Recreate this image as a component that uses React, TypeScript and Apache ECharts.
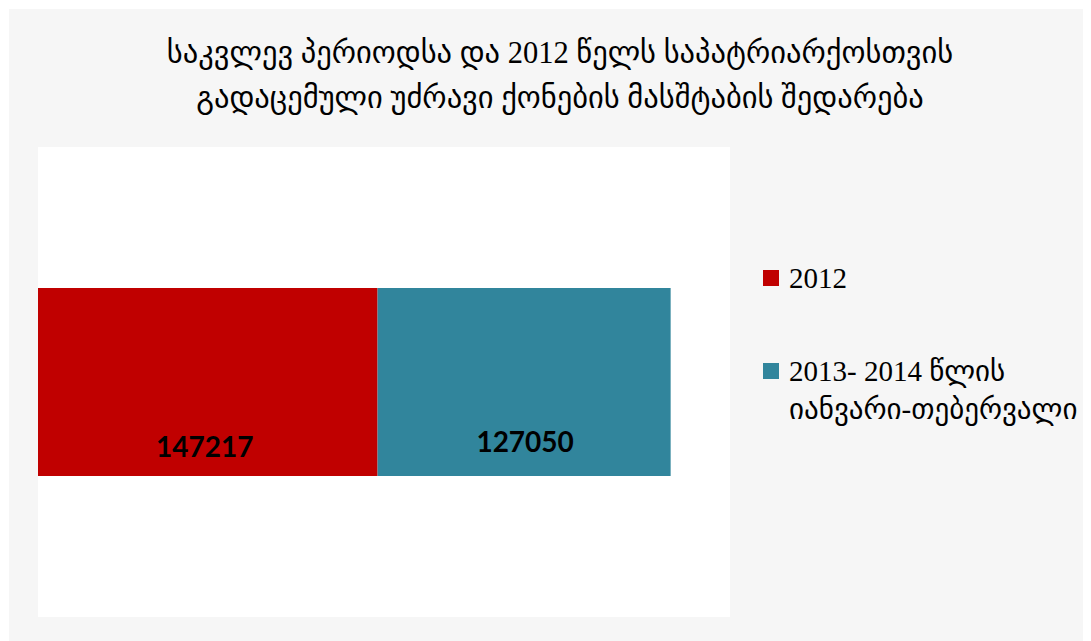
import React, { useEffect, useRef } from "react";
import * as echarts from "echarts";

const titleLines = [
  "საკვლევ პერიოდსა და 2012 წელს საპატრიარქოსთვის",
  "გადაცემული უძრავი ქონების მასშტაბის შედარება",
];
const categories = [""];
const seriesNames = ["2012", "2013- 2014 წლის იანვარი-თებერვალი"];
const legendLines2 = ["2013- 2014 წლის", "იანვარი-თებერვალი"];
const values2012 = [147217];
const values2013 = [127050];
const colors = ["#C00000", "#31859C"];

const serif = "'Liberation Serif', 'DejaVu Sans', serif";

export default function App() {
  const ref = useRef<HTMLDivElement>(null);
  useEffect(() => {
    if (!ref.current) return;
    const chart = echarts.init(ref.current, undefined, { renderer: "svg" });
    chart.setOption({
      animation: false,
      backgroundColor: "#ffffff",
      graphic: [
        {
          type: "rect",
          z: -10,
          silent: true,
          shape: { x: 1, y: 1, width: 1082, height: 632 },
          style: { fill: "#f6f6f6" },
        },
      ],
      title: {
        text: titleLines.join("\n"),
        left: 552,
        top: 22,
        padding: 0,
        textAlign: "center",
        textStyle: {
          fontFamily: serif,
          fontSize: 30.5,
          fontWeight: "normal",
          color: "#000000",
          lineHeight: 45,
        },
      },
      grid: {
        show: true,
        backgroundColor: "#ffffff",
        borderWidth: 0,
        left: 30,
        top: 139,
        width: 692,
        height: 470,
        containLabel: false,
      },
      xAxis: {
        type: "value",
        min: 0,
        max: 300000,
        show: false,
        splitLine: { show: false },
      },
      yAxis: {
        type: "category",
        data: categories,
        show: false,
      },
      legend: [
        {
          data: [seriesNames[0]],
          orient: "vertical",
          left: 755,
          top: 251,
          padding: 0,
          itemWidth: 16,
          itemHeight: 16,
          icon: "rect",
          textStyle: {
            fontFamily: serif,
            fontSize: 29,
            color: "#000000",
            lineHeight: 38,
            padding: [0, 0, 0, 5],
          },
        },
        {
          data: [seriesNames[1]],
          orient: "vertical",
          left: 755,
          top: 306,
          padding: 0,
          itemWidth: 16,
          itemHeight: 16,
          icon: "rect",
          formatter: () => "\n" + legendLines2.join("\n"),
          textStyle: {
            fontFamily: serif,
            fontSize: 29,
            color: "#000000",
            lineHeight: 38,
            padding: [0, 0, 0, 5],
          },
        },
      ],
      series: [
        {
          name: seriesNames[0],
          type: "bar",
          stack: "total",
          barWidth: "40%",
          data: values2012,
          itemStyle: { color: colors[0] },
          label: {
            show: true,
            position: "inside",
            offset: [-3, 64],
            fontFamily: "Lato, 'Open Sans', sans-serif",
            fontSize: 28,
            fontWeight: "bold",
            color: "#000000",
          },
        },
        {
          name: seriesNames[1],
          type: "bar",
          stack: "total",
          barWidth: "40%",
          data: values2013,
          itemStyle: { color: colors[1] },
          label: {
            show: true,
            position: "inside",
            offset: [1, 59],
            fontFamily: "Lato, 'Open Sans', sans-serif",
            fontSize: 28,
            fontWeight: "bold",
            color: "#000000",
          },
        },
      ],
    });
    return () => chart.dispose();
  }, []);
  return <div ref={ref} style={{ width: 1083, height: 633 }} />;
}
